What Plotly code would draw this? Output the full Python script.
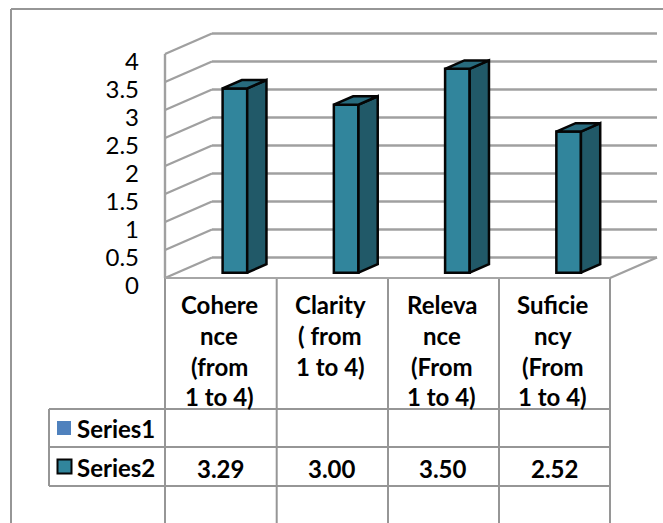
import plotly.graph_objects as go

# ---- data ----
categories = ["Cohere<br>nce<br>(from<br>1 to 4)", "Clarity<br>( from<br>1 to 4)",
              "Releva<br>nce<br>(From<br>1 to 4)", "Suficie<br>ncy<br>(From<br>1 to 4)"]
series_names = ["Series1", "Series2"]
series1_values = [None, None, None, None]
series2_bar_heights = [3.29, 3.00, 3.64, 2.52]
series2_table_labels = ["3.29", "3.00", "3.50", "2.52"]
value_ticks = [0, 0.5, 1, 1.5, 2, 2.5, 3, 3.5, 4]
value_tick_labels = ["0", "0.5", "1", "1.5", "2", "2.5", "3", "3.5", "4"]

# ---- layout geometry (figure pixels) ----
W, H = 663, 523
COL_W = 111.25
COL0_C = 220.7
FRONT_Y0 = 278
UNIT = 56.0
DEPTH_X, DEPTH_Y = 47, 20.5
GRID = "#a0a0a0"
TEAM_FRONT, TEAM_SIDE, TEAM_TOP = "#31859c", "#215968", "#286b7e"
FONT = "Lato"
EDGE = "#050505"


def cx(px):
    return (px - COL0_C) / COL_W


def vy(px):
    return (FRONT_Y0 - px) / UNIT


dx, dy = DEPTH_X / COL_W, DEPTH_Y / UNIT
x_idx = list(range(len(categories)))

BAR_OFFSET = 14.2 / COL_W
BAR_HALF = 12.3 / COL_W
BAR_D0, BAR_D1 = 0.26, 0.67

fig = go.Figure()
shapes = []


def seg(x0, y0, x1, y1, color=GRID, width=2.4):
    shapes.append(dict(type="line", xref="x", yref="y", x0=x0, y0=y0, x1=x1, y1=y1,
                       layer="below", line=dict(color=color, width=width)))


# walls and floor of the 3-D frame
left = cx(165)
right = cx(610)
for v in value_ticks:
    seg(left + dx, v + dy, right + dx, v + dy)
    seg(left, v, left + dx, v + dy)
seg(left, 0, left, value_ticks[-1])
seg(right, 0, right + dx, dy)

# outer chart frame
seg(cx(11), vy(9), cx(W + 2), vy(9), "#969696", 2)
seg(cx(11), vy(9), cx(11), vy(H + 2), "#969696", 2)

# table grid
for px in [165, 276.7, 388, 499, 610]:
    seg(cx(px), 0, cx(px), vy(H + 2), "#969696", 2)
seg(left, 0, right, 0, "#a6a6a6", 2)
for py in [409, 447, 486]:
    seg(cx(49), vy(py), right, vy(py), "#969696", 2)
seg(cx(49), vy(409), cx(49), vy(486), "#969696", 2)

# bars: side and top faces built from the values
base_front = BAR_D0 * dy
for i, h in zip(x_idx, series2_bar_heights):
    xl = i + BAR_OFFSET - BAR_HALF
    xr = i + BAR_OFFSET + BAR_HALF
    sx, sy = (BAR_D1 - BAR_D0) * dx, (BAR_D1 - BAR_D0) * dy
    top = base_front + h
    fig.add_trace(go.Scatter(
        x=[xr, xr + sx, xr + sx, xr, xr],
        y=[base_front, base_front + sy, top + sy, top, base_front],
        mode="lines", fill="toself", fillcolor=TEAM_SIDE,
        line=dict(color=EDGE, width=2.5), hoverinfo="skip", showlegend=False))
    fig.add_trace(go.Scatter(
        x=[xl, xr, xr + sx, xl + sx, xl],
        y=[top, top, top + sy, top + sy, top],
        mode="lines", fill="toself", fillcolor=TEAM_TOP,
        line=dict(color=EDGE, width=2.5), hoverinfo="skip", showlegend=False))

fig.add_trace(go.Bar(
    x=[i + BAR_OFFSET for i in x_idx], y=series2_bar_heights, base=base_front,
    width=2 * BAR_HALF, name=series_names[1],
    marker=dict(color=TEAM_FRONT, line=dict(color=EDGE, width=2.5)), showlegend=False))
fig.add_trace(go.Bar(x=x_idx, y=series1_values, name=series_names[0], showlegend=False))

# invisible trace that brings in the labelled value axis
fig.add_trace(go.Scatter(x=x_idx[:1] * len(value_ticks), y=value_ticks, yaxis="y2",
                         mode="markers", marker=dict(opacity=0), hoverinfo="skip", showlegend=False))

# legend keys of the data table
shapes.append(dict(type="rect", xref="x", yref="y", x0=cx(57), x1=cx(71), y0=vy(421), y1=vy(435),
                   fillcolor="#4f81bd", line=dict(width=0)))
shapes.append(dict(type="rect", xref="x", yref="y", x0=cx(57.5), x1=cx(71.5), y0=vy(459.5), y1=vy(473.5),
                   fillcolor=TEAM_FRONT, line=dict(color=EDGE, width=2)))

annotations = []
TEXT = dict(family=FONT, size=24, color="#000000")


def txt(x, y, s, anchor="center"):
    annotations.append(dict(xref="x", yref="y", x=x, y=y, text="<b>%s</b>" % s, showarrow=False,
                            xanchor=anchor, yanchor="middle", font=TEXT))


LINE_Y = [304, 335, 366, 396.5]
TEXT_SHIFT = -1.5 / COL_W
for i, cat in zip(x_idx, categories):
    for j, line in enumerate(cat.split("<br>")):
        txt(i + TEXT_SHIFT, vy(LINE_Y[j]), line)
for i, s in zip(x_idx, series2_table_labels):
    txt(i, vy(468), s)
txt(cx(75), vy(428.5), series_names[0], "left")
txt(cx(75), vy(467.5), series_names[1], "left")

fig.update_layout(
    width=W, height=H, margin=dict(l=0, r=0, t=0, b=0),
    paper_bgcolor="white", plot_bgcolor="white", showlegend=False, barmode="overlay",
    shapes=shapes, annotations=annotations,
    xaxis=dict(range=[cx(0), cx(W)], visible=False, domain=[0, 1]),
    yaxis=dict(range=[vy(H), vy(0)], visible=False, domain=[0, 1]),
    yaxis2=dict(range=[(286 - H) / UNIT, 286 / UNIT], overlaying="y", anchor="free", position=139 / W,
                side="left", tickvals=value_ticks, ticktext=value_tick_labels, showgrid=False,
                zeroline=False, showline=False, ticks="", tickfont=dict(family=FONT, size=24, color="#000000")),
)

fig.write_html("out.html", post_script="document.body.style.margin='0';", config=dict(displayModeBar=False))
